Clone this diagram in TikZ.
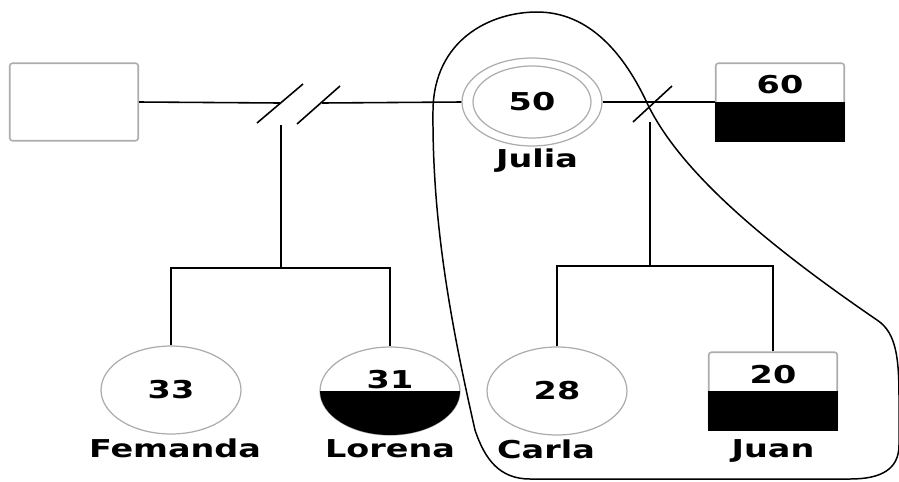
\documentclass[tikz,border=0pt]{standalone}
\usepackage{fontspec}
\setmainfont{DejaVu Sans}[FakeStretch=1.36]
\usetikzlibrary{positioning,shapes.geometric}

\begin{document}
\begin{tikzpicture}[x=0.02cm,y=-0.02cm,
    linea/.style={line width=0.9pt},
    mujer/.style={ellipse,draw=gray!65,line width=0.7pt,minimum width=2.8cm,minimum height=1.76cm,inner sep=0pt,font=\fontsize{14}{16}\selectfont\bfseries},
    varon/.style={rectangle,draw=gray!65,line width=0.9pt,rounded corners=1.5pt,minimum width=2.57cm,minimum height=1.55cm,inner sep=0pt},
    edad/.style={font=\fontsize{14}{16}\selectfont\bfseries,inner sep=0pt},
    nombre/.style={font=\fontsize{14}{16}\selectfont\bfseries,inner sep=1pt}]
    \useasboundingbox (0,0) rectangle (899,481);

    % personas
    \node[varon] (padre) at (74,102) {};
    \node[mujer] (julia) at (532,102) {50};
    \draw[gray!65,line width=0.7pt] (julia.center) ellipse [x radius=1.18cm, y radius=0.72cm];
    \node[varon] (p60) at (780,102) {};
    \fill (p60.west) rectangle (p60.south east);
    \node[edad] (n60) at (780,85) {60};

    \node[mujer] (fer) at (171,390) {33};
    \node[mujer] (lor) at (390,391) {};
    \begin{scope}
        \clip (lor.center) ellipse [x radius=1.4cm, y radius=0.88cm];
        \fill (lor.west) rectangle (lor.east |- lor.south);
    \end{scope}
    \node[edad] (n31) at (390,380) {31};
    \node[mujer] (carla) at (557,391) {28};
    \node[varon] (juan) at (773,391) {};
    \fill (juan.west) rectangle (juan.south east);
    \node[edad] (n20) at (773,375) {20};

    % nombres
    \node[nombre, below=0pt of julia, xshift=0.1cm] (tjulia) {Julia};
    \node[nombre, below=1pt of fer, xshift=0.08cm] (tfer) {Femanda};
    \node[nombre, below=1pt of lor] (tlor) {Lorena};
    \node[nombre, below=1pt of carla, xshift=-0.22cm] (tcarla) {Carla};
    \node[nombre, below=4pt of juan] (tjuan) {Juan};

    % uniones
    \coordinate (u1a) at (280,103);
    \coordinate (u1b) at (322,103);
    \coordinate (s1a) at (257,123);
    \coordinate (s1b) at (303,84);
    \coordinate (s2a) at (297,124);
    \coordinate (s2b) at (340,86);
    \draw[linea] (padre.east) -- (u1a);
    \draw[linea] (u1b) -- (julia.west);
    \draw[linea] (s1a) -- (s1b);
    \draw[linea] (s2a) -- (s2b);

    \coordinate (s3a) at (633,122);
    \coordinate (s3b) at (672,86);
    \draw[linea] (julia.east) -- (p60.west);
    \draw[linea] (s3a) -- (s3b);

    % hijos
    \coordinate (d1) at (281,125);
    \coordinate (h1) at (281,268);
    \draw[linea] (d1) -- (h1);
    \draw[linea] (fer.north) |- (h1) -| (lor.north);

    \coordinate (d2) at (650,122);
    \coordinate (h2) at (650,266);
    \draw[linea] (d2) -- (h2);
    \draw[linea] (carla.north) |- (h2) -| (juan.north);

    % hogar
    \draw[line width=0.85pt] (475,430)
        .. controls (450,320) and (432,220) .. (433,110)
        .. controls (434,40) and (490,12) .. (537,12)
        .. controls (590,12) and (625,55) .. (648,105)
        .. controls (680,170) and (760,240) .. (877,320)
        .. controls (897,333) and (899,360) .. (899,400)
        -- (899,445)
        .. controls (899,470) and (880,479) .. (850,479)
        -- (530,479)
        .. controls (500,479) and (485,460) .. (475,430) -- cycle;
\end{tikzpicture}
\end{document}
